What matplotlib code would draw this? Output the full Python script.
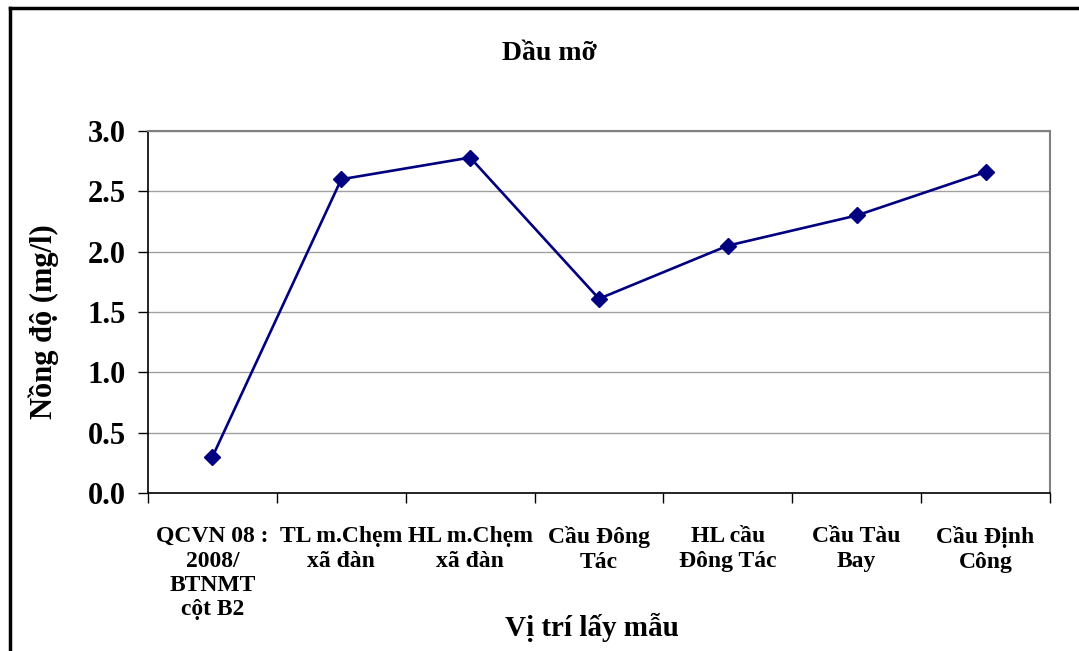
import matplotlib
matplotlib.use("Agg")
import matplotlib.pyplot as plt
from matplotlib.lines import Line2D

plt.rcParams['font.family'] = ['Liberation Serif', 'DejaVu Serif']

# sampling sites and measured oil/grease concentration
sites = [
    "QCVN 08 :\n2008/\nBTNMT\ncột B2",
    "TL m.Chẹm\nxã đàn",
    "HL m.Chẹm\nxã đàn",
    "Cầu Đông\nTác",
    "HL cầu\nĐông Tác",
    "Cầu Tàu\nBay",
    "Cầu Định\nCông",
]
concentration = [0.3, 2.6, 2.78, 1.61, 2.05, 2.3, 2.66]
y_ticks = [0.0, 0.5, 1.0, 1.5, 2.0, 2.5, 3.0]

W, H = 1079, 651
fig = plt.figure(figsize=(W / 100, H / 100), dpi=100)
ax = fig.add_axes([148 / W, 1 - 493 / H, (1050 - 148) / W, (493 - 131) / H])

x = list(range(len(sites)))
ax.plot(x, concentration, color='#000080', lw=1.9, marker='D', ms=8, zorder=3)

ax.set_xlim(-0.5, len(sites) - 0.5)
ax.set_ylim(0, 3.0)
ax.set_yticks(y_ticks)
ax.set_yticklabels([f"{v:.1f}" for v in y_ticks], fontsize=22, fontweight='bold')
ax.yaxis.grid(True, color='#a0a0a0', lw=1)
ax.set_axisbelow(True)

# category labels centred, ticks on category boundaries
ax.set_xticks(x)
ax.set_xticklabels(sites, fontsize=17, fontweight='bold', linespacing=1.2)
ax.tick_params(axis='x', length=0, pad=24)
ax.set_xticks([i - 0.5 for i in range(len(sites) + 1)], minor=True)
ax.tick_params(axis='x', which='minor', length=7, width=1, direction='out')
ax.tick_params(axis='y', length=7, width=1, direction='out', pad=9)

for s in ['top', 'right']:
    ax.spines[s].set_color('#808080')
    ax.spines[s].set_linewidth(1.5)
for s in ['left', 'bottom']:
    ax.spines[s].set_color('black')
    ax.spines[s].set_linewidth(1.2)

fig.text(549 / W, 1 - 54 / H, "Dầu mỡ", fontsize=20, fontweight='bold',
         ha='center', va='center')
fig.text(44 / W, 1 - 322 / H, "Nồng độ (mg/l)", fontsize=22, fontweight='bold',
         rotation=90, ha='center', va='center')
fig.text(592 / W, 1 - 627 / H, "Vị trí lấy mẫu", fontsize=21, fontweight='bold',
         ha='center', va='center')

# outer chart frame (left and top edges visible)
fig.add_artist(Line2D([10 / W, 10 / W], [0, 1 - 8 / H], color='black', lw=2.5,
                      transform=fig.transFigure))
fig.add_artist(Line2D([10 / W, 1], [1 - 8 / H, 1 - 8 / H], color='black', lw=2.5,
                      transform=fig.transFigure))

fig.savefig("out.png", dpi=100)
